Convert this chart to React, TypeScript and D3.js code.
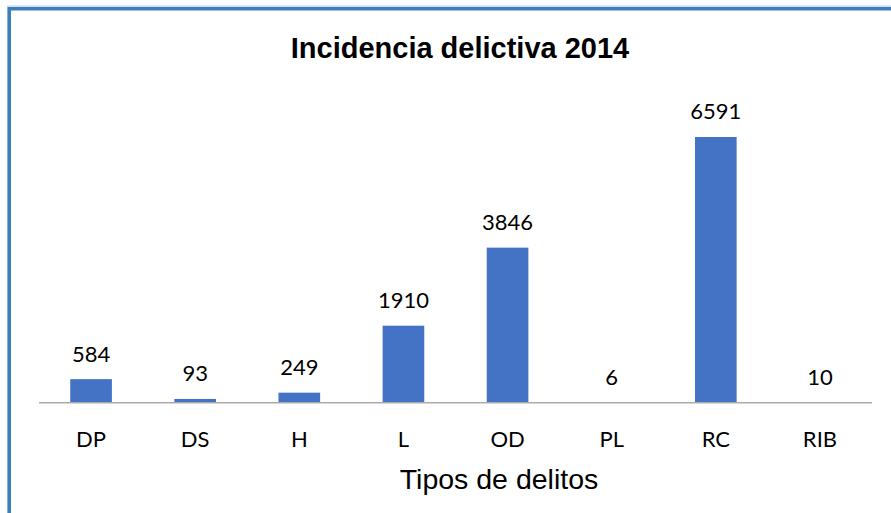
import React, { useEffect, useRef } from 'react';
import * as d3 from 'd3';

const categories = ['DP', 'DS', 'H', 'L', 'OD', 'PL', 'RC', 'RIB'];
const values = [584, 93, 249, 1910, 3846, 6, 6591, 10];
const title = 'Incidencia delictiva 2014';
const xTitle = 'Tipos de delitos';

const W = 891;
const H = 513;

export default function App() {
  const svgRef = useRef<SVGSVGElement>(null);

  useEffect(() => {
    if (!svgRef.current) return;
    const svg = d3.select(svgRef.current);
    svg.selectAll('*').remove();

    const plot = { left: 39, right: 872, top: 120.5, bottom: 402.7 };

    const x = d3.scaleBand<string>()
      .domain(categories)
      .range([plot.left, plot.right])
      .paddingInner(0.6)
      .paddingOuter(0.3);

    const y = d3.scaleLinear()
      .domain([0, 7000])
      .range([plot.bottom, plot.top]);

    svg.append('rect')
      .attr('x', 0).attr('y', 0).attr('width', W).attr('height', H)
      .attr('fill', '#ffffff');

    // chart frame (cut off at right and bottom)
    svg.append('line')
      .attr('x1', 7).attr('x2', W).attr('y1', 6).attr('y2', 6)
      .attr('stroke', '#c9d3df').attr('stroke-width', 1);
    svg.append('rect')
      .attr('x', 9.2).attr('y', 8.7)
      .attr('width', W + 20).attr('height', H + 20)
      .attr('fill', 'none')
      .attr('stroke', '#3a7dc1')
      .attr('stroke-width', 3.6);

    svg.append('text')
      .attr('x', 460).attr('y', 58)
      .attr('text-anchor', 'middle')
      .attr('font-family', 'Liberation Sans, Arial, sans-serif')
      .attr('font-weight', 'bold')
      .attr('font-size', 29)
      .attr('fill', '#000')
      .text(title);

    const g = svg.append('g');

    g.selectAll('rect.bar')
      .data(values)
      .enter()
      .append('rect')
      .attr('class', 'bar')
      .attr('x', (_, i) => x(categories[i]) as number)
      .attr('width', x.bandwidth())
      .attr('y', d => y(d))
      .attr('height', d => plot.bottom - y(d))
      .attr('fill', '#4472c4');

    g.append('line')
      .attr('x1', plot.left).attr('x2', plot.right)
      .attr('y1', plot.bottom).attr('y2', plot.bottom)
      .attr('stroke', '#ababab')
      .attr('stroke-width', 1.5);

    g.selectAll('text.val')
      .data(values)
      .enter()
      .append('text')
      .attr('class', 'val')
      .attr('x', (_, i) => (x(categories[i]) as number) + x.bandwidth() / 2)
      .attr('y', d => y(d) - 17.5)
      .attr('text-anchor', 'middle')
      .attr('font-family', 'Lato, sans-serif')
      .attr('font-size', 22)
      .attr('fill', '#000')
      .text(d => String(d));

    g.selectAll('text.cat')
      .data(categories)
      .enter()
      .append('text')
      .attr('class', 'cat')
      .attr('x', d => (x(d) as number) + x.bandwidth() / 2)
      .attr('y', 447)
      .attr('text-anchor', 'middle')
      .attr('font-family', 'Lato, sans-serif')
      .attr('font-size', 22)
      .attr('fill', '#000')
      .text(d => d);

    svg.append('text')
      .attr('x', 499).attr('y', 489)
      .attr('text-anchor', 'middle')
      .attr('font-family', 'Liberation Sans, Arial, sans-serif')
      .attr('font-size', 28.5)
      .attr('fill', '#000')
      .text(xTitle);
  }, []);

  return (
    <svg
      ref={svgRef}
      width={W}
      height={H}
      style={{ position: 'absolute', left: 0, top: 0, display: 'block' }}
    />
  );
}
